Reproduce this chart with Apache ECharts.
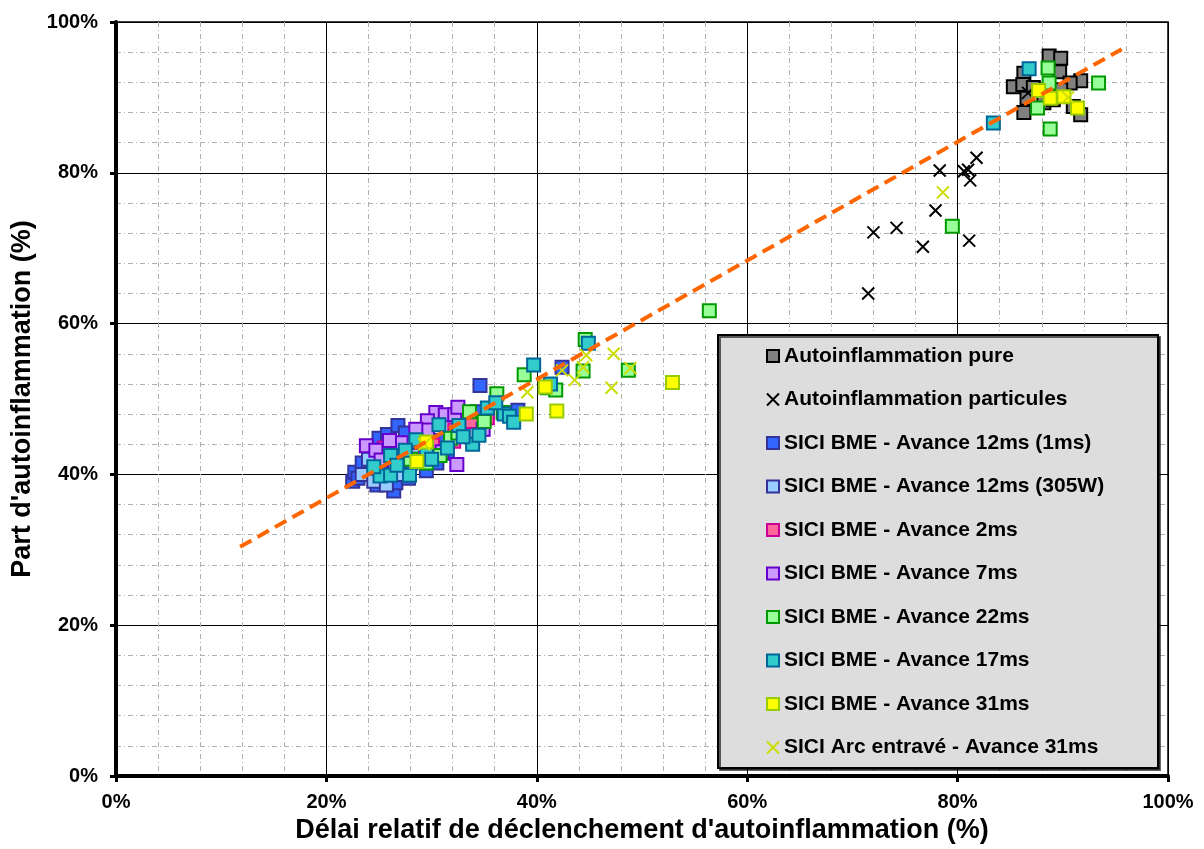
<!DOCTYPE html>
<html><head><meta charset="utf-8">
<script src="https://cdn.jsdelivr.net/npm/echarts@6/dist/echarts.min.js"></script>
<style>html,body{margin:0;padding:0;background:#fff}#c{width:1204px;height:849px}</style>
</head><body><div id="c"></div>
<script>
const xTicks = [0,20,40,60,80,100];
const seriesNames = [
  "Autoinflammation pure",
  "Autoinflammation particules",
  "SICI BME - Avance 12ms (1ms)",
  "SICI BME - Avance 12ms (305W)",
  "SICI BME - Avance 2ms",
  "SICI BME - Avance 7ms",
  "SICI BME - Avance 22ms",
  "SICI BME - Avance 17ms",
  "SICI BME - Avance 31ms",
  "SICI Arc entravé - Avance 31ms"
];
const pure = [[88.7,95.5],[89.8,95.2],[89.7,93.4],[86.3,93.2],[85.3,91.4],[86.2,91.7],[87.2,91.3],[91.7,92.2],[90.7,91.9],[86.6,89.9],[88.2,89.3],[86.3,88.0],[91.0,88.8],[91.7,87.7],[89.1,89.7],[89.8,91.0]];
const particules = [[78.3,80.3],[80.6,80.2],[81.0,80.4],[81.8,82.0],[81.2,79.0],[77.9,75.0],[72.0,72.1],[74.2,72.7],[76.7,70.2],[81.1,71.0],[71.5,64.0],[86.7,90.6],[88.3,90.9]];
const bme12_1ms = [[22.5,39.1],[22.7,40.3],[23.4,41.5],[24.8,38.6],[26.4,37.8],[25.0,44.8],[25.8,45.3],[26.8,46.5],[27.5,45.5],[27.0,42.8],[24.2,40.5],[25.5,41.0],[26.0,40.0],[28.0,41.5],[28.5,43.0],[29.5,40.5],[30.5,41.5],[31.5,42.8],[34.6,51.8],[34.3,48.3],[38.2,48.5],[42.4,54.2],[26.6,38.9],[23.0,39.5],[29.0,44.0],[31.0,44.5],[33.0,46.0],[27.8,39.5]];
const bme12_305w = [[23.4,40.0],[24.5,39.1],[25.7,38.6],[27.0,40.0],[24.0,42.0],[26.5,41.5],[28.2,42.5]];
const bme2 = [[35.3,47.5],[32.2,45.9],[32.1,44.4],[30.1,43.9],[27.2,42.2],[29.0,42.0],[33.8,47.0],[25.5,43.5]];
const bme7 = [[23.8,43.8],[24.7,43.2],[25.2,41.9],[27.1,44.2],[30.4,48.2],[31.3,47.9],[32.2,47.9],[32.5,48.9],[29.6,47.1],[29.6,45.9],[34.9,46.0],[32.4,41.3],[31.0,43.0],[28.5,46.0],[26.0,44.5]];
const bme22 = [[88.6,93.9],[88.7,91.9],[93.4,91.9],[87.6,88.6],[88.8,85.8],[79.5,72.9],[56.4,61.7],[44.6,57.9],[38.8,53.2],[44.4,53.7],[48.7,53.8],[36.2,50.7],[41.0,51.5],[41.8,51.2],[33.6,48.3],[30.8,42.5],[29.5,41.5],[35.0,47.0],[31.8,44.8],[36.8,48.2],[28.0,42.0],[32.5,45.5]];
const bme17 = [[86.8,93.8],[83.4,86.6],[44.9,57.4],[39.7,54.5],[41.3,52.0],[36.9,48.0],[30.7,46.6],[28.5,44.6],[32.6,46.5],[33.9,44.0],[34.5,45.2],[26.1,42.5],[27.5,43.2],[25.1,39.8],[26.1,39.9],[27.9,39.9],[26.7,41.2],[35.3,48.8],[37.4,47.7],[36.1,49.5],[31.5,43.5],[29.5,43.0],[33.0,45.0],[24.5,41.0],[30.0,42.0],[37.8,46.9]];
const bme31 = [[40.8,51.6],[41.9,48.4],[39.0,48.0],[52.9,52.2],[28.6,41.7],[29.5,44.3],[87.7,90.9],[88.8,89.9],[90.1,90.1],[91.4,88.6]];
const arc31 = [[78.6,77.4],[47.3,56.0],[48.9,54.1],[44.4,54.2],[42.4,53.8],[43.6,52.5],[47.1,51.5],[39.1,50.9],[44.7,55.8],[29.3,44.0],[90.5,90.0]];
const trendX = [11.8, 95.6];
const trendY = [30.4, 96.4];

const FONT = 'Liberation Sans, Arial, sans-serif';
const XPATH = 'path://M0,0L10,10M10,0L0,10';
const styles = [
  {fill:'#808080', border:'#000000', sym:'rect'},
  {fill:'rgba(210,210,210,0.5)', border:'#000000', sym:XPATH},
  {fill:'#3366FF', border:'#333399', sym:'rect'},
  {fill:'#99CCFF', border:'#333399', sym:'rect'},
  {fill:'#FF6699', border:'#CC0099', sym:'rect'},
  {fill:'#CC99FF', border:'#6600CC', sym:'rect'},
  {fill:'#99FF99', border:'#009900', sym:'rect'},
  {fill:'#33CCCC', border:'#006699', sym:'rect'},
  {fill:'#FFFF00', border:'#99CC00', sym:'rect'},
  {fill:'rgba(255,255,0,0.4)', border:'#CCDD00', sym:XPATH}
];
const dataSets = [pure, particules, bme12_1ms, bme12_305w, bme2, bme7, bme22, bme17, bme31, arc31];

const scatter = seriesNames.map((n,i)=>({
  name:n, type:'scatter', data:dataSets[i], symbol:styles[i].sym,
  symbolSize: styles[i].sym==='rect'?13:12,
  itemStyle:{color:styles[i].fill, borderColor:styles[i].border, borderWidth:2, opacity:1},
  z:3, silent:true
}));
const trend = {
  type:'line', data:trendX.map((x,i)=>[x,trendY[i]]), symbol:'none', silent:true, z:4,
  lineStyle:{color:'#FF6600', width:4, type:[13,7]}
};

const chart = echarts.init(document.getElementById('c'), null, {renderer:'canvas'});
chart.setOption({
  animation:false,
  backgroundColor:'#fff',
  grid:{left:116, right:36, top:22, bottom:71, show:true, borderColor:'#000', borderWidth:1.5},
  xAxis:{
    type:'value', min:0, max:100, interval:20,
    name:"Délai relatif de déclenchement d'autoinflammation (%)", nameLocation:'middle', nameGap:41,
    nameTextStyle:{fontFamily:FONT, fontWeight:'bold', fontSize:27, color:'#000'},
    axisLine:{lineStyle:{color:'#000', width:4}},
    axisTick:{length:6, lineStyle:{color:'#000', width:3}},
    axisLabel:{formatter:v=>v+'%', fontFamily:FONT, fontWeight:'bold', fontSize:20, color:'#000', margin:16},
    splitLine:{lineStyle:{color:'#000', width:1}},
    minorTick:{show:false, splitNumber:5},
    minorSplitLine:{show:true, lineStyle:{color:'#b0b0b0', width:1, type:[5,3,1,3]}}
  },
  yAxis:{
    type:'value', min:0, max:100, interval:20,
    name:"Part d'autoinflammation (%)", nameLocation:'middle', nameGap:79, nameRotate:90,
    nameTextStyle:{fontFamily:FONT, fontWeight:'bold', fontSize:27, color:'#000'},
    axisLine:{lineStyle:{color:'#000', width:4}},
    axisTick:{length:6, lineStyle:{color:'#000', width:3}},
    axisLabel:{formatter:v=>v+'%', fontFamily:FONT, fontWeight:'bold', fontSize:20, color:'#000', margin:18},
    splitLine:{lineStyle:{color:'#000', width:1}},
    minorTick:{show:false, splitNumber:5},
    minorSplitLine:{show:true, lineStyle:{color:'#b0b0b0', width:1, type:[5,3,1,3]}}
  },
  graphic:[{
    type:'rect', left:717, top:334, z:50,
    shape:{width:440, height:433},
    style:{fill:'#DDDDDD', stroke:'#000', lineWidth:2, shadowColor:'rgba(0,0,0,0.6)', shadowOffsetX:2, shadowOffsetY:2}
  }],
  legend:{
    show:true, orient:'vertical', left:761, top:340, z:60,
    data:seriesNames, itemWidth:12, itemHeight:12, itemGap:21.5,
    selectedMode:false,
    textStyle:{fontFamily:FONT, fontWeight:'bold', fontSize:21, color:'#000', lineHeight:22}
  },
  series:[...scatter, trend]
});
</script></body></html>
